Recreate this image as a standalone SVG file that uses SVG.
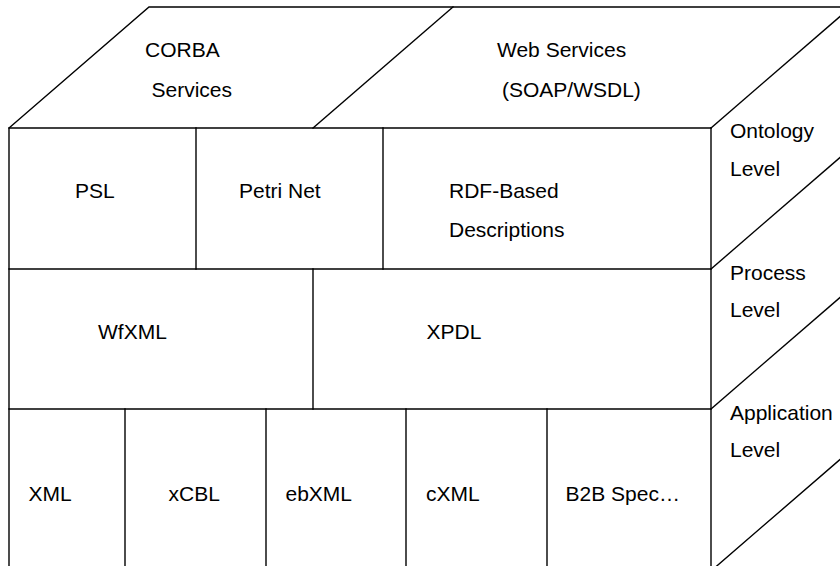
<svg xmlns="http://www.w3.org/2000/svg" width="840" height="566" viewBox="0 0 840 566">
<style>
.l{stroke:#000;stroke-width:1.4;fill:none;stroke-linecap:square}
text{font-family:"Liberation Sans",Arial,sans-serif;font-size:21px;fill:#000}
</style>
<rect width="840" height="566" fill="#fff"/>
<g id="frame" class="l">
<polyline points="9,572 9,128 149,7 852,7"/>
<line x1="711" y1="128" x2="711" y2="572"/>
<line x1="9" y1="128" x2="711" y2="128"/>
<line x1="9" y1="269" x2="711" y2="269"/>
<line x1="9" y1="409" x2="711" y2="409"/>
<line x1="313" y1="128" x2="453" y2="7"/>
<line x1="711" y1="128" x2="851" y2="7"/>
<line x1="711" y1="269" x2="851" y2="148"/>
<line x1="711" y1="409" x2="851" y2="288"/>
<line x1="711" y1="571" x2="851" y2="450"/>
<line x1="196" y1="128" x2="196" y2="269"/>
<line x1="383" y1="128" x2="383" y2="269"/>
<line x1="313" y1="269" x2="313" y2="409"/>
<line x1="125" y1="409" x2="125" y2="572"/>
<line x1="266" y1="409" x2="266" y2="572"/>
<line x1="406" y1="409" x2="406" y2="572"/>
<line x1="547" y1="409" x2="547" y2="572"/>
</g>
<g id="corba"><text x="145" y="57">CORBA</text><text x="151.5" y="97">Services</text></g>
<g id="webservices"><text x="497" y="57">Web Services</text><text x="502" y="97">(SOAP/WSDL)</text></g>
<g id="ontology"><text x="730" y="138">Ontology</text><text x="730" y="176">Level</text></g>
<g id="process"><text x="730" y="280">Process</text><text x="730" y="317">Level</text></g>
<g id="application"><text x="730" y="420">Application</text><text x="730" y="457">Level</text></g>
<g id="psl"><text x="75" y="198">PSL</text></g>
<g id="petrinet"><text x="239" y="198">Petri Net</text></g>
<g id="rdf"><text x="449" y="198">RDF-Based</text><text x="449" y="237">Descriptions</text></g>
<g id="wfxml"><text x="98" y="339">WfXML</text></g>
<g id="xpdl"><text x="426.5" y="339">XPDL</text></g>
<g id="xml"><text x="28.5" y="501">XML</text></g>
<g id="xcbl"><text x="168.5" y="501">xCBL</text></g>
<g id="ebxml"><text x="285.5" y="501">ebXML</text></g>
<g id="cxml"><text x="426" y="501">cXML</text></g>
<g id="b2b"><text x="565.5" y="501">B2B Spec…</text></g>
</svg>
